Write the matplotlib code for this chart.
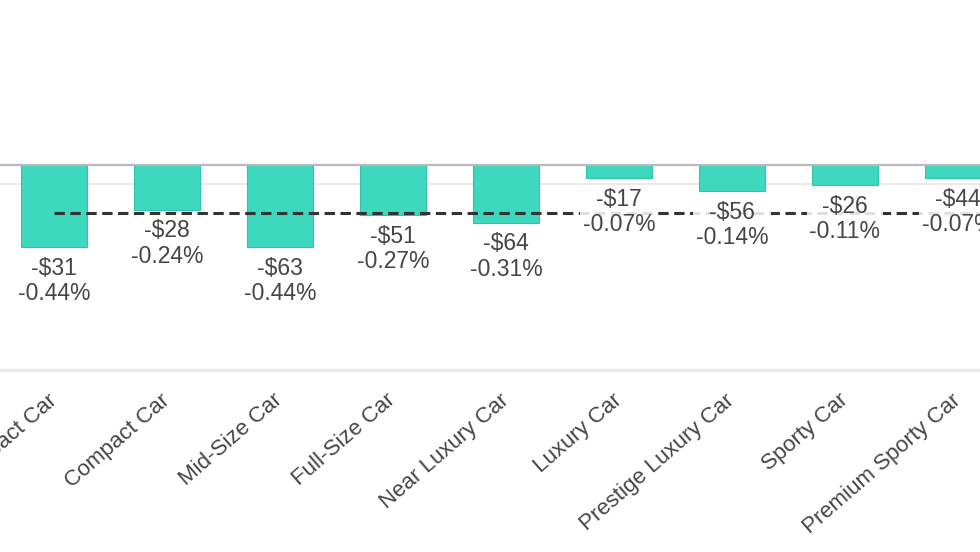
import matplotlib
matplotlib.use('Agg')
import matplotlib.pyplot as plt

plt.rcParams['font.family'] = ['Liberation Sans', 'DejaVu Sans']

categories = ["Subcompact Car", "Compact Car", "Mid-Size Car", "Full-Size Car",
              "Near Luxury Car", "Luxury Car", "Prestige Luxury Car", "Sporty Car",
              "Premium Sporty Car"]
dollar_change = [-31, -28, -63, -51, -64, -17, -56, -26, -44]
pct_change = [-0.44, -0.24, -0.44, -0.27, -0.31, -0.07, -0.14, -0.11, -0.07]
avg_pct = -0.26

text_color = '#454545'
bar_color = '#3ED8BF'

fig = plt.figure(figsize=(9.8, 5.52), dpi=100)
ax = fig.add_axes([0, 1 - 370 / 552, 1, 370 / 552])
x = list(range(len(categories)))

ax.set_xlim(-0.478, 8.195)
ax.set_ylim(-1.102, 0.887)

ax.axhline(-0.1, color='#e6e6e6', lw=1.2, zorder=1)
ax.bar(x, pct_change, width=0.58, color=bar_color, edgecolor='#33c2aa',
       linewidth=0.8, zorder=2)
ax.axhline(0, color='#b9b9b9', lw=1.6, zorder=3)
ax.hlines(avg_pct, 0, len(categories), colors='#333333', lw=2.2,
          linestyles=(0, (3.4, 1.8)), zorder=4)

for i, (d, p) in enumerate(zip(dollar_change, pct_change)):
    ax.annotate(f"-\\${abs(d)}\n{p:.2f}%", xy=(i, p), xytext=(0, -7),
                textcoords='offset points', ha='center', va='top',
                fontsize=16.5, color=text_color, linespacing=1.12,
                bbox=dict(boxstyle='square,pad=0.12', fc='white', ec='none', alpha=0.85),
                zorder=5)

ax.set_xticks(x)
ax.set_xticklabels(categories, rotation=41, ha='right', va='center',
                   rotation_mode='anchor', fontsize=16, color=text_color)
ax.tick_params(axis='x', length=0, pad=20)
ax.tick_params(axis='y', left=False, labelleft=False)

for side in ['top', 'left', 'right']:
    ax.spines[side].set_visible(False)
ax.spines['bottom'].set_color('#e8e8e8')
ax.spines['bottom'].set_linewidth(2.5)

fig.savefig('out.png', dpi=100)
